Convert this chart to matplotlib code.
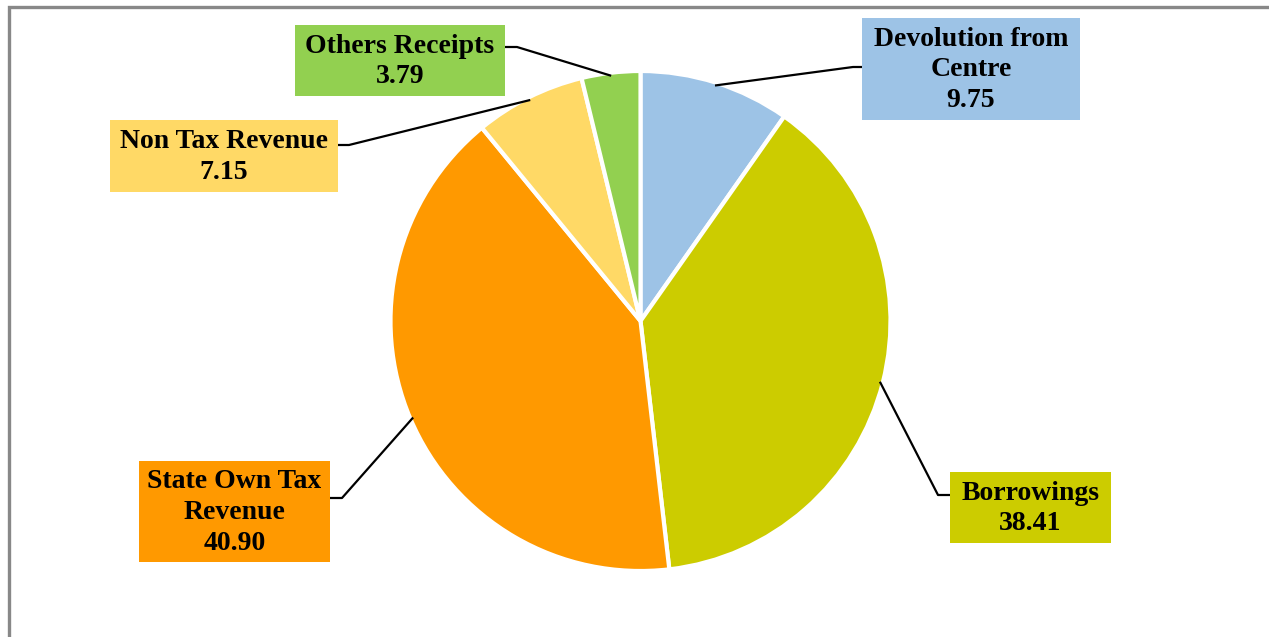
import numpy as np
import matplotlib
matplotlib.use("Agg")
import matplotlib.pyplot as plt
from matplotlib.patches import Rectangle

# ---- data
labels = ["Devolution from\nCentre", "Borrowings", "State Own Tax\nRevenue",
          "Non Tax Revenue", "Others Receipts"]
values = [9.75, 38.41, 40.90, 7.15, 3.79]
colors = ["#9DC3E6", "#CCCC00", "#FF9900", "#FFD966", "#92D050"]

# ---- layout (pixel coords, y measured from top)
W, H = 1269, 637
cx, cy, R = 640.5, 321, 250
# label boxes: x0, y0, x1, y1
boxes = [(862, 18, 1080, 120),
         (950, 472, 1111, 543),
         (139, 461, 330, 562),
         (110, 120, 338, 192),
         (295, 25, 505, 96)]
# leader: box attach point and elbow
attach = [((862, 67), (853, 67)),
          ((950, 495), (938, 495)),
          ((330, 498), (342, 498)),
          ((338, 145), (349, 145)),
          ((505, 47), (517, 47))]

fig = plt.figure(figsize=(W / 100, H / 100), dpi=100)
ax = fig.add_axes([0, 0, 1, 1])

wedges, _ = ax.pie(values, colors=colors, startangle=90, counterclock=False,
                   center=(cx, H - cy), radius=R, frame=True,
                   wedgeprops=dict(edgecolor="white", linewidth=3))
ax.set_xlim(0, W)
ax.set_ylim(0, H)
ax.set_aspect("equal")
ax.axis("off")

font = dict(family=["Liberation Serif", "DejaVu Serif"], weight="bold", size=20)

for w, lab, val, col, (x0, y0, x1, y1), (pb, pe) in zip(
        wedges, labels, values, colors, boxes, attach):
    ax.add_patch(Rectangle((x0, H - y1), x1 - x0, y1 - y0, fc=col, ec="none", zorder=3))
    ax.text((x0 + x1) / 2, H - (y0 + y1) / 2 - 1, f"{lab}\n{val:.2f}", ha="center",
            va="center", linespacing=1.3, zorder=4, **font)
    ang = np.deg2rad((w.theta1 + w.theta2) / 2)
    px, py = w.center[0] + (R - 3) * np.cos(ang), w.center[1] + (R - 3) * np.sin(ang)
    ax.plot([pb[0], pe[0], px], [H - pb[1], H - pe[1], py], color="black",
            lw=1.6, zorder=2, solid_capstyle="butt")

# outer chart border
ax.plot([9, 9, W + 5], [-5, H - 7, H - 7], color="#888888", lw=2.4,
        solid_joinstyle="miter", clip_on=False)

fig.savefig("out.png", dpi=100, facecolor="white")
